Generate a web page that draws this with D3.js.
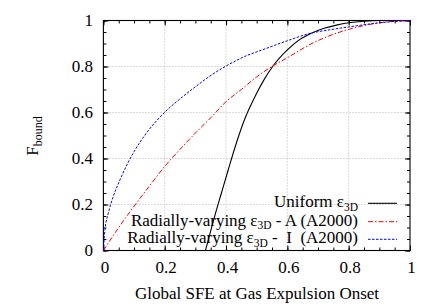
<!DOCTYPE html>
<html>
<head>
<meta charset="utf-8">
<script src="https://cdn.jsdelivr.net/npm/d3@7/dist/d3.min.js"></script>
<style>
  body { margin: 0; background: #fff; }
  svg text { font-family: "Liberation Serif", "Times New Roman", serif; fill: #000; }
</style>
</head>
<body>
<svg id="chart" width="436" height="305"></svg>
<script>
// Uniform SFE curve
const uniformX = [0.333, 0.364, 0.385, 0.407, 0.435, 0.462, 0.497, 0.525, 0.552, 0.6, 0.641, 0.674, 0.72, 0.76, 0.8, 0.85, 0.9, 1.0];
const uniformY = [0, 0.154, 0.25, 0.35, 0.473, 0.575, 0.676, 0.745, 0.80, 0.872, 0.918, 0.942, 0.966, 0.98, 0.99, 0.997, 1.0, 1.0];

// Radially-varying, A (A2000)
const radAX = [0, 0.05, 0.087, 0.15, 0.199, 0.25, 0.31, 0.35, 0.4, 0.45, 0.5, 0.552, 0.6, 0.674, 0.75, 0.804, 0.9, 1.0];
const radAY = [0, 0.1, 0.169, 0.28, 0.364, 0.44, 0.524, 0.577, 0.647, 0.70, 0.755, 0.802, 0.838, 0.896, 0.94, 0.963, 0.99, 1.0];

// Radially-varying, I (A2000)
const radIX = [0, 0.005, 0.016, 0.032, 0.054, 0.1, 0.14, 0.2, 0.26, 0.315, 0.348, 0.4, 0.46, 0.532, 0.6, 0.674, 0.74, 0.805, 0.9, 1.0];
const radIY = [0, 0.089, 0.162, 0.234, 0.307, 0.43, 0.51, 0.601, 0.67, 0.727, 0.759, 0.802, 0.843, 0.879, 0.912, 0.944, 0.96, 0.973, 0.99, 1.0];

const xTicks = [0, 0.2, 0.4, 0.6, 0.8, 1];
const yTicks = [0, 0.2, 0.4, 0.6, 0.8, 1];

const svg = d3.select("#chart");
const pLeft = 103.4, pRight = 410, pTop = 20.5, pBottom = 250.5;

const x = d3.scaleLinear().domain([0, 1]).range([pLeft, pRight]);
const y = d3.scaleLinear().domain([0, 1]).range([pBottom, pTop]);

const minor = d3.range(0, 1.0001, 0.05);

// grid
const grid = svg.append("g").attr("stroke", "#b8b8b8").attr("stroke-dasharray", "1,2").attr("stroke-width", 1);
xTicks.slice(1, -1).forEach(v => {
  grid.append("line").attr("x1", x(v)).attr("x2", x(v)).attr("y1", pTop).attr("y2", pBottom);
});
yTicks.slice(1, -1).forEach(v => {
  grid.append("line").attr("y1", y(v)).attr("y2", y(v)).attr("x1", pLeft).attr("x2", pRight);
});

// axes with inward ticks on all four sides
svg.append("g").attr("transform", `translate(0,${pBottom})`)
  .call(d3.axisBottom(x).tickValues(minor).tickSize(-3).tickFormat(""));
svg.append("g").attr("transform", `translate(0,${pTop})`)
  .call(d3.axisTop(x).tickValues(minor).tickSize(-3).tickFormat(""));
svg.append("g").attr("transform", `translate(${pLeft},0)`)
  .call(d3.axisLeft(y).tickValues(minor).tickSize(-3).tickFormat(""));
svg.append("g").attr("transform", `translate(${pRight},0)`)
  .call(d3.axisRight(y).tickValues(minor).tickSize(-3).tickFormat(""));
svg.append("g").attr("transform", `translate(0,${pBottom})`)
  .call(d3.axisBottom(x).tickValues(xTicks).tickSize(-5).tickFormat(""));
svg.append("g").attr("transform", `translate(0,${pTop})`)
  .call(d3.axisTop(x).tickValues(xTicks).tickSize(-5).tickFormat(""));
svg.append("g").attr("transform", `translate(${pLeft},0)`)
  .call(d3.axisLeft(y).tickValues(yTicks).tickSize(-5).tickFormat(""));
svg.append("g").attr("transform", `translate(${pRight},0)`)
  .call(d3.axisRight(y).tickValues(yTicks).tickSize(-5).tickFormat(""));
svg.selectAll(".domain").attr("stroke", "none");
svg.selectAll(".tick line").attr("stroke", "#000").attr("stroke-width", 1);

svg.append("rect").attr("x", pLeft).attr("y", pTop).attr("width", pRight - pLeft).attr("height", pBottom - pTop)
  .attr("fill", "none").attr("stroke", "#000").attr("stroke-width", 1.1);

// tick labels
svg.append("g").selectAll("text").data(xTicks).join("text")
  .attr("x", d => x(d) + 1.5).attr("y", pBottom + 22.5)
  .attr("text-anchor", "middle").attr("font-size", "17px")
  .text(d => d3.format("")(d));
svg.append("g").selectAll("text").data(yTicks).join("text")
  .attr("x", pLeft - 10.5).attr("y", d => y(d)).attr("dy", "0.33em")
  .attr("text-anchor", "end").attr("font-size", "17px")
  .text(d => d3.format("")(d));

// axis titles
svg.append("text").attr("x", 257).attr("y", 299)
  .attr("text-anchor", "middle").attr("font-size", "17px")
  .text("Global SFE at Gas Expulsion Onset");
const yt = svg.append("text").attr("transform", "translate(38,136) rotate(-90)")
  .attr("text-anchor", "middle").attr("font-size", "17px");
yt.append("tspan").text("F");
yt.append("tspan").attr("dy", 4).attr("font-size", "12px").text("bound");

// curves
const line = d3.line().x(d => x(d[0])).y(d => y(d[1])).curve(d3.curveMonotoneX);
const series = [
  { name: "Uniform", xs: uniformX, ys: uniformY, color: "#000", dash: null, w: 1.1 },
  { name: "A", xs: radAX, ys: radAY, color: "#ff0000", dash: "5,2,1.5,2", w: 1 },
  { name: "I", xs: radIX, ys: radIY, color: "#0000ff", dash: "2.5,1.5", w: 1 }
];
series.forEach(s => {
  svg.append("path").datum(s.xs.map((v, i) => [v, s.ys[i]]))
    .attr("d", line).attr("fill", "none")
    .attr("stroke", s.color).attr("stroke-width", s.w)
    .attr("stroke-dasharray", s.dash);
});

// legend
const legendRows = [
  { pre: "Uniform ", post: "", y: 203.3 },
  { pre: "Radially-varying ", post: " - A (A2000)", y: 221.7 },
  { pre: "Radially-varying ", post: " -  I  (A2000)", y: 239.3 }
];
legendRows.forEach((r, i) => {
  const t = svg.append("text").attr("x", 358).attr("y", r.y + 4)
    .attr("text-anchor", "end").attr("font-size", "17px")
    .style("white-space", "pre");
  t.append("tspan").text(r.pre + "ε");
  t.append("tspan").attr("dy", 3.5).attr("font-size", "11.5px").text("3D");
  if (r.post) t.append("tspan").attr("dy", -3.5).text(r.post);
  svg.append("line").attr("x1", 368).attr("x2", 397).attr("y1", r.y).attr("y2", r.y)
    .attr("stroke", series[i].color).attr("stroke-width", series[i].w)
    .attr("stroke-dasharray", series[i].dash);
});
</script>
</body>
</html>
